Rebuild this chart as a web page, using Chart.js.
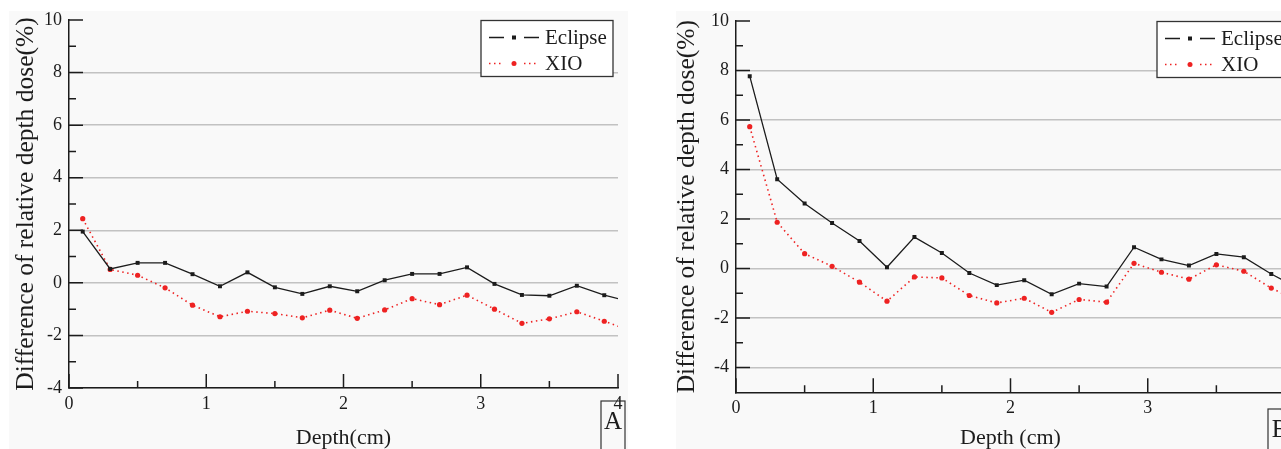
<!DOCTYPE html>
<html>
<head>
<meta charset="utf-8">
<title>Difference of relative depth dose</title>
<script src="https://cdn.jsdelivr.net/npm/chart.js@4.4.1/dist/chart.umd.min.js"></script>
<style>
    html, body { margin: 0; padding: 0; background: #fff; overflow: hidden; width: 1281px; height: 449px; }
    canvas { position: absolute; top: 0; }
</style>
</head>
<body>
<canvas id="chartA" width="640" height="449" style="left:0"></canvas>
<canvas id="chartB" width="660" height="449" style="left:660px"></canvas>
<script>
// depth (cm) of each measured point; last one sits just past the axis end
const depth = [0.1, 0.3, 0.5, 0.7, 0.9, 1.1, 1.3, 1.5, 1.7, 1.9, 2.1, 2.3, 2.5, 2.7, 2.9, 3.1, 3.3, 3.5, 3.7, 3.9, 4.1];

// panel A
const eclipseA = [1.95, 0.53, 0.76, 0.76, 0.33, -0.13, 0.40, -0.17, -0.42, -0.13, -0.32, 0.10, 0.34, 0.34, 0.59, -0.04, -0.46, -0.49, -0.11, -0.47, -0.73];
const xioA = [2.44, 0.51, 0.29, -0.19, -0.85, -1.29, -1.08, -1.17, -1.33, -1.04, -1.35, -1.03, -0.60, -0.83, -0.47, -1.00, -1.54, -1.37, -1.10, -1.46, -1.84];

// panel B
const eclipseB = [7.77, 3.61, 2.63, 1.84, 1.11, 0.05, 1.27, 0.63, -0.18, -0.67, -0.47, -1.04, -0.61, -0.73, 0.86, 0.37, 0.12, 0.59, 0.46, -0.22, -0.80];
const xioB = [5.73, 1.87, 0.60, 0.09, -0.55, -1.32, -0.34, -0.38, -1.09, -1.39, -1.20, -1.77, -1.25, -1.36, 0.21, -0.15, -0.43, 0.15, -0.11, -0.79, -1.32];

// tick labels
const xTicks = [0, 1, 2, 3, 4];
const xMinor = [0.5, 1.5, 2.5, 3.5];
const yTicksA = [-4, -2, 0, 2, 4, 6, 8, 10];
const yTicksB = [-4, -2, 0, 2, 4, 6, 8, 10];
const yMinor = [-3, -1, 1, 3, 5, 7, 9];

const seriesNames = ['Eclipse', 'XIO'];
const yTitle = 'Difference of relative depth dose(%)';

const BLACK = '#1c1c1c';
const RED = '#ee2222';

Chart.defaults.font.family = '"Liberation Serif", "Times New Roman", serif';
Chart.defaults.color = '#1c1c1c';

function toPoints(values) {
    return values.map((v, i) => ({ x: depth[i], y: v }));
}

// background, inner tick marks, legend box and panel letter
const panelDecor = {
    id: 'panelDecor',
    beforeDraw(chart, args, opts) {
        const ctx = chart.ctx;
        ctx.save();
        ctx.fillStyle = '#f9f9f9';
        ctx.fillRect(opts.bgLeft, opts.bgTop, opts.bgRight - opts.bgLeft, chart.height - opts.bgTop);

        // panel letter box (drawn first so the axis label can sit over it)
        const area = chart.chartArea;
        const bx = area.right - 17;
        ctx.strokeStyle = '#333';
        ctx.lineWidth = 1.2;
        ctx.strokeRect(bx, opts.letterTop, 24, 60);
        ctx.fillStyle = '#1c1c1c';
        ctx.font = '25px "Liberation Serif", serif';
        ctx.textAlign = 'center';
        ctx.textBaseline = 'middle';
        ctx.fillText(opts.letter, bx + 12, opts.letterTop + 21);
        ctx.restore();
    },
    afterDraw(chart, args, opts) {
        const ctx = chart.ctx;
        const area = chart.chartArea;
        const xs = chart.scales.x;
        const ys = chart.scales.y;

        ctx.save();
        ctx.strokeStyle = BLACK;
        ctx.lineWidth = 1.5;
        ctx.beginPath();
        opts.yMajor.forEach(v => {
            const p = ys.getPixelForValue(v);
            ctx.moveTo(area.left, p);
            ctx.lineTo(area.left + 14, p);
        });
        yMinor.forEach(v => {
            const p = ys.getPixelForValue(v);
            ctx.moveTo(area.left, p);
            ctx.lineTo(area.left + 7, p);
        });
        xTicks.forEach(v => {
            const p = xs.getPixelForValue(v);
            ctx.moveTo(p, area.bottom);
            ctx.lineTo(p, area.bottom - 14);
        });
        xMinor.forEach(v => {
            const p = xs.getPixelForValue(v);
            ctx.moveTo(p, area.bottom);
            ctx.lineTo(p, area.bottom - 7);
        });
        ctx.stroke();

        // legend
        const lx = area.right + opts.legendDx;
        const ly = area.top + 0.5;
        ctx.fillStyle = '#fff';
        ctx.fillRect(lx, ly, 132, 56);
        ctx.strokeStyle = '#333';
        ctx.lineWidth = 1.3;
        ctx.strokeRect(lx, ly, 132, 56);

        const rows = [ly + 17, ly + 43];
        chart.data.datasets.forEach((ds, i) => {
            const cy = rows[i];
            ctx.strokeStyle = ds.borderColor;
            ctx.lineWidth = ds.borderWidth;
            ctx.setLineDash(ds.borderDash || []);
            ctx.beginPath();
            ctx.moveTo(lx + 8, cy); ctx.lineTo(lx + 23, cy);
            ctx.moveTo(lx + 43, cy); ctx.lineTo(lx + 58, cy);
            ctx.stroke();
            ctx.setLineDash([]);
            ctx.fillStyle = ds.pointBackgroundColor;
            if (ds.pointStyle === 'rect') {
                ctx.fillRect(lx + 31, cy - 2, 4, 4);
            } else {
                ctx.beginPath();
                ctx.arc(lx + 33, cy, 2.5, 0, Math.PI * 2);
                ctx.fill();
            }
            ctx.fillStyle = '#1c1c1c';
            ctx.font = '21px "Liberation Serif", serif';
            ctx.textBaseline = 'middle';
            ctx.textAlign = 'left';
            ctx.fillText(ds.label, lx + 64, cy + 1);
        });
        ctx.restore();
    }
};

function buildChart(id, eclipse, xio, cfg) {
    const ctx = document.getElementById(id).getContext('2d');
    return new Chart(ctx, {
        type: 'line',
        data: {
            datasets: [{
                label: seriesNames[0],
                data: toPoints(eclipse),
                borderColor: BLACK,
                borderWidth: 1.3,
                pointStyle: 'rect',
                pointRadius: 2.8,
                pointBackgroundColor: BLACK,
                pointBorderWidth: 0,
                tension: 0
            }, {
                label: seriesNames[1],
                data: toPoints(xio),
                borderColor: RED,
                borderWidth: 1.6,
                borderDash: [1.5, 3.5],
                pointStyle: 'circle',
                pointRadius: 2.6,
                pointBackgroundColor: RED,
                pointBorderWidth: 0,
                tension: 0
            }]
        },
        options: {
            responsive: false,
            animation: false,
            events: [],
            layout: { padding: cfg.padding },
            plugins: {
                legend: { display: false },
                tooltip: { enabled: false },
                panelDecor: cfg.decor
            },
            scales: {
                x: {
                    type: 'linear',
                    min: 0,
                    max: 4,
                    afterBuildTicks: scale => { scale.ticks = xTicks.map(v => ({ value: v })); },
                    afterFit: scale => { scale.height = cfg.xHeight; },
                    grid: { display: false },
                    border: { display: true, color: BLACK, width: 1.5 },
                    ticks: { font: { size: 18 }, padding: -3, maxRotation: 0, autoSkip: false },
                    title: {
                        display: true,
                        text: cfg.xTitle,
                        font: { size: 22, lineHeight: 1 },
                        padding: 0
                    }
                },
                y: {
                    min: cfg.yMin,
                    max: 10,
                    afterBuildTicks: scale => { scale.ticks = cfg.yTicks.map(v => ({ value: v })); },
                    afterFit: scale => { scale.width = cfg.yWidth; },
                    grid: {
                        drawTicks: false,
                        lineWidth: 1.5,
                        color: c => (c.tick && c.tick.value === 10) ? 'rgba(0,0,0,0)' : '#c2c2c2'
                    },
                    border: { display: true, color: BLACK, width: 1.5 },
                    ticks: { font: { size: 18 }, padding: 7 },
                    title: {
                        display: true,
                        text: yTitle,
                        font: { size: 25.5, lineHeight: 1.2 },
                        padding: 0
                    }
                }
            }
        },
        plugins: [panelDecor]
    });
}

document.addEventListener('DOMContentLoaded', () => {
    buildChart('chartA', eclipseA, xioA, {
        padding: { left: 11, top: 20, right: 22, bottom: 0 },
        yWidth: 58,
        xHeight: 61,
        yMin: -4,
        yTicks: yTicksA,
        xTitle: 'Depth(cm)',
        decor: { bgLeft: 9, bgTop: 11, bgRight: 628, yMajor: yTicksA, legendDx: -137, letter: 'A', letterTop: 401 }
    });

    buildChart('chartB', eclipseB, xioB, {
        padding: { left: 11.6, top: 21, right: 35, bottom: 0 },
        yWidth: 64.4,
        xHeight: 56.7,
        yMin: -5,
        yTicks: yTicksB,
        xTitle: 'Depth (cm)',
        decor: { bgLeft: 16, bgTop: 11, bgRight: 660, yMajor: yTicksB, legendDx: -128, letter: 'B', letterTop: 409 }
    });
});
</script>
</body>
</html>
